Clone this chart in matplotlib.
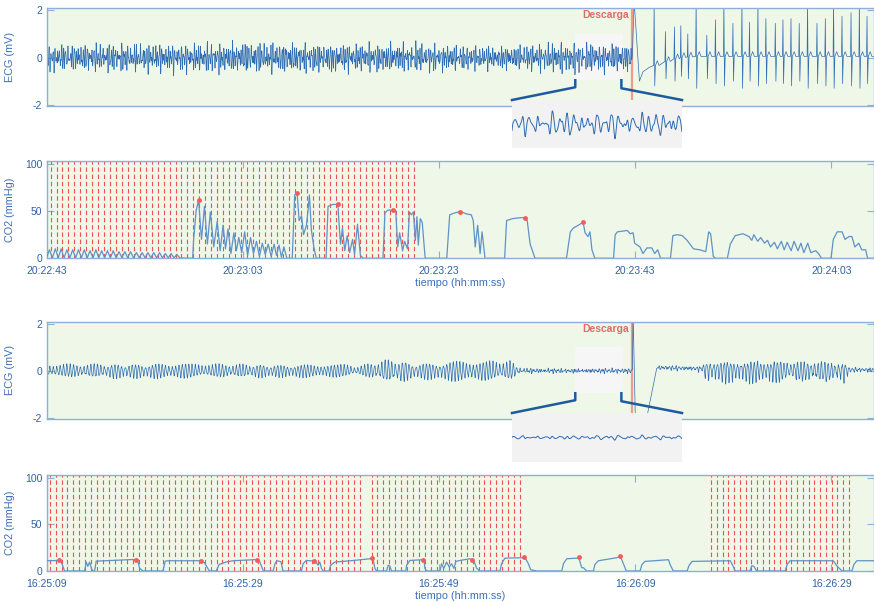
import numpy as np
import matplotlib.pyplot as plt
from matplotlib.lines import Line2D
from matplotlib.patches import Rectangle

plt.rcParams['font.family'] = ['Liberation Sans', 'DejaVu Sans']
plt.rcParams['axes.unicode_minus'] = False

FS = 250.0          # ECG sampling rate (Hz)
T_END = 84.3        # seconds shown per episode

# ---------------------------------------------------------------- time axis
tick_s = [0, 20, 40, 60, 80]
labels_ep1 = ['20:22:43', '20:23:03', '20:23:23', '20:23:43', '20:24:03']
labels_ep2 = ['16:25:09', '16:25:29', '16:25:49', '16:26:09', '16:26:29']

shock_ep1 = 59.7
shock_ep2 = 59.7
zoom_win = [53.9, 58.8]

# ---------------------------------------------------------------- ECG episode 1
# VF before the shock: rms envelope (mV) and spectral content
ecg1_env_t = [0, 5, 10, 15, 20, 25, 30, 35, 40, 44, 48, 52, 55, 59.7]
ecg1_env_v = [0.24, 0.26, 0.26, 0.27, 0.28, 0.28, 0.26, 0.27, 0.25, 0.22, 0.22, 0.28, 0.27, 0.25]
ecg1_freqs = [4.6, 6.9, 3.1, 9.7, 12.3, 5.4]
ecg1_amps = [1.0, 0.6, 0.5, 0.3, 0.15, 0.5]
ecg1_phase = [0.3, 1.7, 2.9, 0.8, 2.2, 5.1]

# shock artefact then organised rhythm: beat time (s), R peak, S trough (mV)
ecg1_shock_t = [59.72, 59.9, 60.44, 60.8, 61.5]
ecg1_shock_v = [0.1, 2.4, -1.0, -0.6, -0.4]
ecg1_beat_t = [61.94, 63.09, 64.01, 64.66, 65.37, 66.22, 67.31, 68.19, 69.05, 69.97,
               70.89, 71.66, 72.52, 73.33, 74.29, 75.07, 75.89, 76.73, 77.58, 78.54,
               79.39, 80.23, 81.09, 82.01, 82.86, 83.64]
ecg1_beat_r = [2.4, 1.1, 1.3, 1.35, 1.0, 2.4, 0.95, 1.6, 2.4, 1.45,
               2.4, 1.5, 2.4, 1.65, 1.45, 1.6, 1.65, 1.45, 2.4, 1.45,
               1.65, 2.4, 1.75, 1.9, 2.4, 1.75]
ecg1_beat_s = [-1.2, -0.9, -1.0, -0.8, -0.9, -1.3, -0.9, -1.1, -1.2, -1.0,
               -1.3, -1.0, -1.2, -1.1, -1.0, -1.1, -1.2, -1.0, -1.3, -1.1,
               -1.2, -1.3, -1.1, -1.2, -1.3, -1.1]
ecg1_base_t = [60.44, 60.8, 61.5, 62.5, 63.5, 64.5, 66.0, 84.3]
ecg1_base_v = [-1.0, -0.6, -0.4, -0.25, -0.1, 0.0, 0.05, 0.05]

# ---------------------------------------------------------------- ECG episode 2
ecg2_env_t = [0, 8, 14, 24, 30.9, 31.5, 32.5, 34.7, 36.0, 37.4, 41.8, 47.3, 48.3, 59.7]
ecg2_env_v = [0.15, 0.17, 0.17, 0.15, 0.15, 0.09, 0.15, 0.26, 0.26, 0.18, 0.23, 0.23, 0.03, 0.03]
ecg2_freqs = [2.9, 3.3, 5.8, 8.7]
ecg2_amps = [1.0, 0.3, 0.2, 0.1]
ecg2_phase = [0.6, 2.1, 1.2, 3.3]
# low-amplitude irregular activity on top of the VF
ecg2_fine_t = [0, 47.3, 48.3, 59.7, 62.2, 84.3]
ecg2_fine_v = [0.0, 0.0, 0.035, 0.035, 0.03, 0.03]

ecg2_shock_t = [59.72, 59.8, 60.05, 60.9, 62.2]
ecg2_shock_v = [0.05, 2.4, -2.6, -2.6, 0.1]
ecg2_post_env_t = [62.2, 66.8, 67.3, 81.3, 81.8, 84.3]
ecg2_post_env_v = [0.03, 0.03, 0.2, 0.2, 0.03, 0.03]
ecg2_post_base_t = [62.2, 67.0, 84.3]
ecg2_post_base_v = [0.15, 0.1, 0.05]

# ---------------------------------------------------------------- CO2 episode 1
co2_1_bump_t = [0.30, 0.90, 1.49, 2.08, 2.67, 3.26, 3.85, 4.44, 5.03, 5.62, 6.21, 6.80,
                7.39, 7.98, 8.57, 9.16, 9.75, 10.34, 10.93, 11.52, 12.11, 12.70, 13.29]
co2_1_bump_v = [9, 10, 10, 9, 9, 9, 9, 8, 9, 8, 8, 8, 7, 7, 7, 6, 6, 6, 6, 6, 5, 5, 4]
co2_1_t = [13.6, 14.9, 15.0, 15.25, 15.5, 15.8, 16.1, 16.4, 16.7, 17.05, 17.4, 17.7, 18.0,
           18.25, 18.5, 18.8, 19.1, 19.35, 19.6, 19.9, 20.2, 20.5, 20.8, 21.1, 21.4, 21.7,
           22.0, 22.3, 22.6, 22.9, 23.2, 23.45, 23.7, 23.95, 24.2, 24.5,
           25.05, 25.3, 25.55, 25.75, 26.0, 26.2, 26.5, 26.7, 26.8, 27.0, 27.25, 27.5,
           28.5, 28.7, 29.2, 29.7, 29.8, 29.97, 30.17, 30.4, 30.65, 30.9, 31.2, 31.4, 31.7,
           32.0, 32.3, 34.3, 34.5, 34.8, 35.3, 35.6, 35.8, 36.0, 36.3, 36.5, 36.8, 37.0,
           37.2, 37.4, 37.6, 37.76, 37.9, 38.1, 38.3, 38.6, 40.8, 41.1, 41.6, 42.2, 42.8,
           43.3, 43.5, 43.7, 43.95, 44.2, 44.4, 44.7, 46.7, 46.9, 47.5, 48.3, 48.8, 49.0,
           49.3, 49.8, 53.0, 53.4, 53.7, 54.7, 54.9, 55.2, 55.4, 55.6, 55.9, 57.8, 57.97,
           58.2, 59.2, 59.5, 59.8, 59.95, 60.5, 60.8, 61.2, 61.7, 62.0, 62.3, 62.6, 63.6,
           63.85, 64.3, 64.8, 65.3, 65.95, 66.6, 67.2, 67.5, 67.7, 67.97, 68.2, 69.4, 69.7,
           70.2, 71.0, 71.6, 71.9, 72.1, 72.5, 72.8, 73.2, 73.5, 73.8, 74.2, 74.5, 74.9,
           75.2, 75.5, 75.9, 76.2, 76.6, 76.9, 77.2, 77.6, 77.9, 78.4, 78.7, 79.0, 79.97,
           80.2, 80.6, 81.1, 81.4, 81.8, 82.1, 82.4, 82.8, 83.1, 83.5, 83.7, 84.4]
co2_1_v = [0.3, 0, 20, 50, 62, 20, 55, 15, 49, 12, 39, 8, 35,
           10, 31, 5, 27, 8, 22, 6, 28, 3, 22, 5, 18, 2,
           16, 4, 15, 2, 15, 3, 14, 1, 12, 0,
           0, 67, 69, 40, 45, 25, 35, 55, 67, 30, 12, 0,
           0, 55, 57, 57, 40, 15, 32, 8, 24, 6, 20, 4, 36,
           3, 0, 0, 48, 51, 51, 50, 12, 27, 8, 18, 10, 49,
           46, 49, 19, 44, 14, 42, 38, 0, 0, 46, 48, 49.5, 47,
           46, 40, 12, 35, 5, 28, 0, 0, 40, 42, 43, 43, 40,
           15, 0, 0, 28, 32, 38, 27, 23, 28, 9, 0, 0, 25,
           28, 29.5, 26, 27, 16, 12, 5, 11, 11, 5, 9, 0, 0,
           24, 25, 24, 19, 10, 9, 7, 28, 26, 2, 0, 0, 15,
           24, 26, 23, 19, 25, 18, 22, 16, 19, 12, 17, 10, 18,
           9, 17, 8, 18, 8, 16, 6, 16, 6, 8, 5, 0, 0,
           20, 28, 28, 20, 23, 23, 12, 16, 9, 9, 0, 0]
co2_1_dot_t = [15.5, 25.55, 29.7, 35.3, 42.2, 48.8, 54.7]
co2_1_dot_v = [62, 69, 57, 51, 49.5, 43, 38]
comp_ep1 = [0.41, 1.02, 1.62, 2.23, 2.84, 3.45, 4.05, 4.66, 5.27, 5.87, 6.48, 7.09, 7.69,
            8.30, 8.91, 9.52, 10.12, 10.73, 11.34, 11.94, 12.55, 13.16, 13.76, 14.37,
            14.98, 15.59, 16.19, 16.80, 17.41, 18.01, 18.62, 19.23, 19.83, 20.44, 21.05,
            21.66, 22.26, 22.87, 23.48, 24.08, 24.69, 25.30, 25.90, 26.51, 27.12, 27.73,
            28.33, 28.94, 29.55, 30.15, 30.76, 31.37, 31.97, 32.58, 33.19, 33.80, 34.40,
            35.01, 35.62, 36.22, 36.83, 37.44]

# ---------------------------------------------------------------- CO2 episode 2
co2_2_t = [0.0, 1.26, 1.5, 1.84, 3.88, 4.05, 4.21, 4.39, 4.6, 4.73, 4.9, 5.07, 7.0, 8.81,
           9.08, 9.3, 9.49, 9.83, 11.87, 12.1, 12.38, 15.7, 16.1, 16.3, 16.6, 17.3, 17.6,
           18.3, 19.0, 21.05, 21.5, 21.7, 22.1, 23.1, 23.3, 23.5, 23.9, 24.1, 25.99, 26.16,
           26.5, 27.28, 27.5, 27.69, 27.86, 28.03, 28.2, 28.81, 28.95, 29.39, 31.0, 32.96,
           33.13, 33.3, 33.47, 33.64, 34.66, 34.83, 35.0, 35.17, 36.63, 36.7, 37.04, 38.33,
           38.5, 38.57, 38.74, 40.1, 40.27, 40.5, 40.78, 41.05, 41.29, 41.53, 41.73, 42.14,
           43.16, 43.33, 43.6, 43.84, 44.18, 46.22, 46.39, 46.73, 48.6, 48.71, 48.9, 49.12,
           49.35, 49.97, 52.52, 52.7, 53.03, 54.05, 54.25, 54.56, 54.73, 55.07, 55.75, 55.9,
           56.26, 58.1, 58.5, 58.8, 59.1, 60.5, 60.7, 61.0, 63.4, 63.6, 63.9, 65.3, 65.5,
           65.8, 69.7, 70.0, 70.2, 71.7, 71.9, 72.1, 72.4, 75.3, 75.5, 75.8, 80.2, 80.6,
           81.1, 82.1, 82.3, 82.6, 84.4]
co2_2_v = [11, 11.3, 10, 0, 0, 9.6, 5, 9.6, 2, 0, 0, 10.6, 11.5, 12.3,
           12.3, 11, 3, 0, 0, 10.6, 11, 11, 9, 5.3, 0, 0, 7,
           9.6, 11, 12, 12.3, 11, 0, 0, 8, 11, 10, 0, 0, 8,
           11.3, 10.6, 9, 6.2, 9.6, 2.8, 0, 0, 6, 9.6, 11, 13.1,
           13.8, 12, 3, 0, 0, 6.2, 5.3, 0, 0, 6, 11.3, 12.1,
           10, 3, 0, 0, 7.8, 2.8, 9.6, 4.3, 7.8, 2.8, 10.3, 11.3,
           13.1, 12.3, 10, 3, 0, 0, 8, 13.8, 14.2, 14.9, 12, 7.8,
           1.4, 0, 0, 8, 13.1, 13.8, 14.5, 3.5, 3.5, 0, 0, 7,
           11, 14.2, 15.6, 8, 0, 0, 7, 10.3, 12.1, 6, 0, 0, 6,
           10.3, 11, 5, 0, 0, 5.7, 5, 0, 0, 7, 11, 11, 5,
           0, 0, 7, 11, 11]
co2_2_dot_t = [1.26, 9.08, 15.7, 21.5, 27.28, 33.13, 38.33, 43.33, 48.71, 54.25, 58.5]
co2_2_dot_v = [11.3, 12.3, 11, 12.3, 10.6, 13.8, 12.1, 12.3, 14.9, 14.5, 15.6]
comp_ep2 = [0.31, 0.92, 1.53, 2.13, 2.74, 3.35, 3.96, 4.57, 5.17, 5.78, 6.39, 7.00, 7.61,
            8.21, 8.82, 9.43, 10.04, 10.65, 11.25, 11.86, 12.47, 13.08, 13.69, 14.29,
            14.90, 15.51, 16.12, 16.73, 17.33, 17.94, 18.55, 19.16, 19.77, 20.37, 20.98,
            21.59, 22.20, 22.81, 23.41, 24.02, 24.63, 25.24, 25.85, 26.45, 27.06, 27.67,
            28.28, 28.89, 29.49, 30.10, 30.71, 31.32, 31.93,
            33.13, 33.74, 34.34, 34.95, 35.55, 36.16, 36.77, 37.37, 37.98, 38.58, 39.19,
            39.80, 40.40, 41.01, 41.61, 42.22, 42.83, 43.43, 44.04, 44.64, 45.25, 45.86,
            46.46, 47.07, 47.67, 48.28,
            67.76, 68.34, 68.93, 69.51, 70.10, 70.68, 71.26, 71.85, 72.43, 73.02, 73.60,
            74.18, 74.77, 75.35, 75.94, 76.52, 77.10, 77.69, 78.27, 78.86, 79.44, 80.02,
            80.61, 81.19, 81.77]

# ---------------------------------------------------------------- colours
BG = '#eef7e8'
SPINE = '#8fb0d6'
TICKC = '#2f62a5'
LABC = '#3b70b8'
ECGC = '#2f6cb3'
CO2C = '#5f93c8'
COMPC = '#f0504f'
DOTC = '#f25c5c'
SHOCKC = '#f19a8c'
LINKC = '#1f5a9e'


def vf_trace(t, env_t, env_v, freqs, amps, phases):
    env = np.interp(t, env_t, env_v)
    w = np.zeros_like(t)
    for f, a, p in zip(freqs, amps, phases):
        w += a * np.sin(2 * np.pi * f * t + p + 0.9 * np.sin(2 * np.pi * 0.023 * f * t + p))
    w /= np.sqrt(np.sum(np.square(amps)) / 2)
    return env * w


def beat_knots(bt, br, bs, base_t, base_v):
    kt, kv = [], []
    for t0, r, s in zip(bt, br, bs):
        b = np.interp(t0, base_t, base_v)
        kt += [t0 - 0.05, t0, t0 + 0.06, t0 + 0.13, t0 + 0.32, t0 + 0.5]
        kv += [b, r, s, b, b + 0.2, b]
    return kt, kv


# episode 1 ECG
t_pre = np.arange(0, shock_ep1, 1 / FS)
e_pre = vf_trace(t_pre, ecg1_env_t, ecg1_env_v, ecg1_freqs, ecg1_amps, ecg1_phase)
bk_t, bk_v = beat_knots(ecg1_beat_t, ecg1_beat_r, ecg1_beat_s, ecg1_base_t, ecg1_base_v)
ecg1_t = np.concatenate([t_pre, ecg1_shock_t, bk_t, [84.4]])
ecg1_v = np.concatenate([e_pre, ecg1_shock_v, bk_v, [0.05]])

# episode 2 ECG
t_pre2 = np.arange(0, shock_ep2, 1 / FS)
e_pre2 = (vf_trace(t_pre2, ecg2_env_t, ecg2_env_v, ecg2_freqs, ecg2_amps, ecg2_phase)
          + vf_trace(t_pre2, ecg2_fine_t, ecg2_fine_v, ecg1_freqs, ecg1_amps, ecg1_phase))
t_post2 = np.arange(62.3, 84.4, 1 / FS)
e_vf2 = vf_trace(t_post2, ecg2_post_env_t, ecg2_post_env_v, ecg2_freqs, ecg2_amps, ecg2_phase)
e_vf2 = np.where(e_vf2 < 0, 1.6 * e_vf2, 0.8 * e_vf2)     # sharper negative deflections
e_post2 = (e_vf2 + np.interp(t_post2, ecg2_post_base_t, ecg2_post_base_v)
           + vf_trace(t_post2, ecg2_fine_t, ecg2_fine_v, ecg1_freqs, ecg1_amps, ecg1_phase))
ecg2_t = np.concatenate([t_pre2, ecg2_shock_t, t_post2])
ecg2_v = np.concatenate([e_pre2, ecg2_shock_v, e_post2])

# CO2 episode 1: small compression bumps then breaths
bump_t, bump_v = [0.0], [0.5]
for tb, vb in zip(co2_1_bump_t, co2_1_bump_v):
    bump_t += [tb, tb + 0.3]
    bump_v += [vb, 0.5]
co2_1_tt = np.concatenate([bump_t, co2_1_t])
co2_1_vv = np.concatenate([bump_v, co2_1_v])

W, H = 874, 602


def px_rect(left, top, right, bottom):
    return [left / W, 1 - bottom / H, (right - left) / W, (bottom - top) / H]


fig = plt.figure(figsize=(W / 100, H / 100), dpi=100)
ax1 = fig.add_axes(px_rect(46.5, 8, 873.5, 106))
ax2 = fig.add_axes(px_rect(46.5, 161, 873.5, 258.3))
ax3 = fig.add_axes(px_rect(46.5, 321.7, 873.5, 418.7))
ax4 = fig.add_axes(px_rect(46.5, 475, 873.5, 571))
in1 = fig.add_axes(px_rect(512, 100, 682, 148))
in3 = fig.add_axes(px_rect(512, 413, 682, 462))


def style(ax, ylabel):
    ax.set_facecolor(BG)
    for s in ax.spines.values():
        s.set_color(SPINE)
        s.set_linewidth(1.0)
    ax.tick_params(direction='in', length=5, width=0.8, color=SPINE, labelcolor=TICKC,
                   labelsize=7.5, top=True, right=True, pad=3)
    ax.tick_params(axis='x', pad=5.5)
    ax.set_xlim(0, T_END)
    ax.set_ylabel(ylabel, color=LABC, fontsize=7.8)
    ax.yaxis.set_label_coords(-0.038, 0.5)


def ecg_panel(ax, t, v, shock):
    style(ax, 'ECG (mV)')
    ax.set_ylim(-2.05, 2.1)
    ax.set_yticks([-2, 0, 2])
    ax.set_xticks([])
    ax.add_patch(Rectangle((zoom_win[0], -0.96), zoom_win[1] - zoom_win[0], 1.98,
                           facecolor='#f6f6f6', edgecolor='none', zorder=1.5))
    ax.axvline(shock, color=SHOCKC, lw=1.6, zorder=1.8)
    ax.plot(t, v, color=ECGC, lw=0.5, zorder=2)
    ax.text(shock - 0.3, 1.8, 'Descarga', color='#e06c6c', fontsize=7.5,
            fontweight='bold', ha='right', va='center')


def co2_panel(ax, t, v, dot_t, dot_v, comp, labels):
    style(ax, 'CO2 (mmHg)')
    ax.set_ylim(0, 103)
    ax.set_yticks([0, 50, 100])
    ax.set_xticks(tick_s)
    ax.set_xticklabels(labels)
    for tc in comp:
        ax.axvline(tc, color=COMPC, lw=0.8, ls=(0, (4, 2.5)), zorder=1.6)
    ax.plot(t, v, color=CO2C, lw=0.9, zorder=3)
    ax.plot(dot_t, dot_v, 'o', color=DOTC, ms=3.5, mec='none', zorder=4)
    ax.set_xlabel('tiempo (hh:mm:ss)', color=LABC, fontsize=7.8, labelpad=1.5)


def zoom_inset(ax, axin, t, v):
    axin.set_facecolor('#f2f2f2')
    for s in axin.spines.values():
        s.set_visible(False)
    axin.set_xticks([])
    axin.set_yticks([])
    sel = (t >= zoom_win[0]) & (t <= zoom_win[1])
    axin.plot(t[sel], v[sel], color=ECGC, lw=0.7)
    axin.set_xlim(zoom_win)
    axin.set_ylim(-1.2, 1.2)
    inv = fig.transFigure.inverted()
    bl = ax.transData.transform((zoom_win[0], -0.96))
    br = ax.transData.transform((zoom_win[1] - 0.2, -0.96))
    tl = axin.transAxes.transform((0, 1))
    tr = axin.transAxes.transform((1, 1))
    for a, b, drop in [(bl, tl, 7), (br, tr, 8)]:
        pts = inv.transform(np.array([a, a - np.array([0, drop]), b]))
        fig.add_artist(Line2D(pts[:, 0], pts[:, 1], color=LINKC, lw=1.8, zorder=10))


ecg_panel(ax1, ecg1_t, ecg1_v, shock_ep1)
co2_panel(ax2, co2_1_tt, co2_1_vv, co2_1_dot_t, co2_1_dot_v, comp_ep1, labels_ep1)
ecg_panel(ax3, ecg2_t, ecg2_v, shock_ep2)
co2_panel(ax4, co2_2_t, co2_2_v, co2_2_dot_t, co2_2_dot_v, comp_ep2, labels_ep2)
zoom_inset(ax1, in1, ecg1_t, ecg1_v)
zoom_inset(ax3, in3, ecg2_t, ecg2_v)

fig.savefig('out.png', dpi=100)
